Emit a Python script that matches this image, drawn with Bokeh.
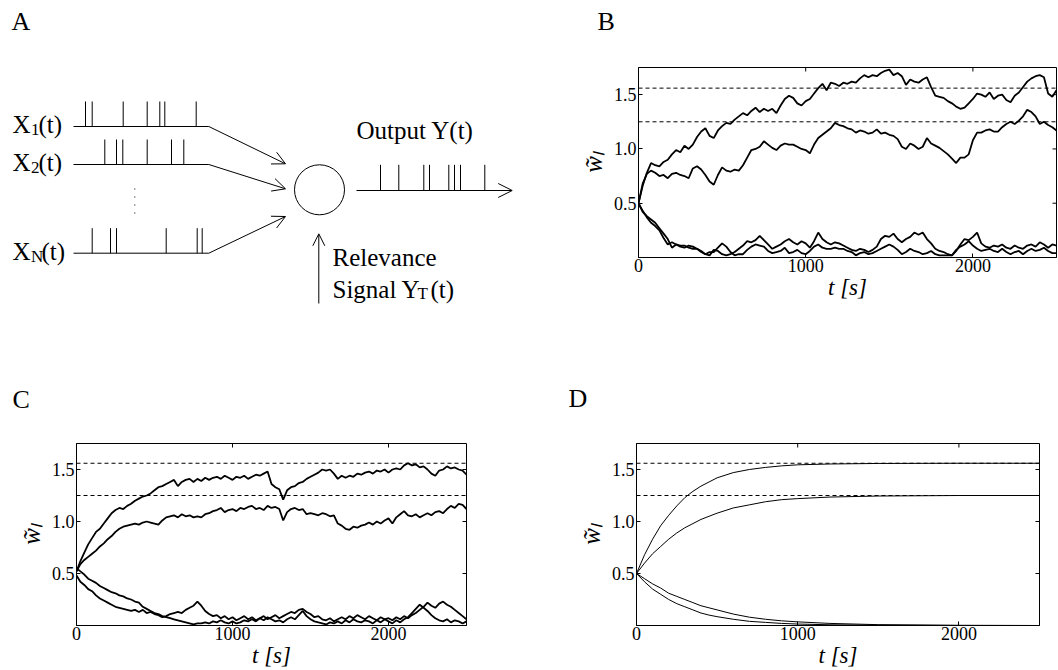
import math
from bokeh.plotting import figure
from bokeh.layouts import column, row
from bokeh.models import (Range1d, FixedTicker, Span, Arrow, OpenHead, PrintfTickFormatter)
from bokeh.embed import file_html
from bokeh.resources import INLINE
from bokeh.core.properties import value

SERIF = "Liberation Serif"
TIMES = "Liberation Serif"

# ---------------- data ----------------
x_ticks = [0, 1000, 2000]
y_ticks = [0.5, 1.0, 1.5]
t_max = 2500
w_max = 1.75
targets = [1.56, 1.25]          # dashed reference levels

t_grid = list(range(0, 2501, 25))   # sample times [s]

b_w1 = [0.50, 0.66, 0.78, 0.87, 0.85, 0.84, 0.88, 0.90, 0.95, 0.99,
        0.97, 1.03, 1.00, 1.04, 1.11, 1.16, 1.19, 1.12, 1.10, 1.17,
        1.21, 1.24, 1.23, 1.27, 1.30, 1.33, 1.31, 1.35, 1.38, 1.34,
        1.37, 1.35, 1.37, 1.33, 1.40, 1.46, 1.49, 1.47, 1.42, 1.40,
        1.44, 1.46, 1.51, 1.56, 1.60, 1.54, 1.61, 1.60, 1.58, 1.61,
        1.60, 1.62, 1.61, 1.65, 1.68, 1.66, 1.68, 1.67, 1.70, 1.72,
        1.73, 1.68, 1.70, 1.67, 1.59, 1.64, 1.62, 1.61, 1.64, 1.66,
        1.57, 1.49, 1.48, 1.47, 1.44, 1.42, 1.39, 1.37, 1.38, 1.42,
        1.46, 1.51, 1.50, 1.48, 1.52, 1.46, 1.49, 1.50, 1.45, 1.43,
        1.49, 1.52, 1.57, 1.62, 1.65, 1.67, 1.68, 1.66, 1.51, 1.48,
        1.54]
b_w2 = [0.50, 0.68, 0.77, 0.80, 0.78, 0.75, 0.76, 0.73, 0.77, 0.78,
        0.76, 0.75, 0.73, 0.82, 0.84, 0.81, 0.76, 0.70, 0.67, 0.76,
        0.83, 0.80, 0.79, 0.81, 0.80, 0.85, 0.92, 0.99, 1.00, 1.02,
        1.07, 1.04, 1.01, 0.99, 1.03, 1.05, 1.04, 1.04, 1.02, 1.00,
        0.99, 0.96, 1.04, 1.10, 1.13, 1.16, 1.19, 1.24, 1.22, 1.21,
        1.19, 1.18, 1.15, 1.17, 1.16, 1.14, 1.15, 1.18, 1.14, 1.15,
        1.13, 1.12, 1.09, 1.02, 1.00, 1.05, 1.03, 1.00, 1.02, 1.10,
        1.05, 1.03, 1.01, 0.98, 0.95, 0.91, 0.87, 0.92, 0.92, 0.95,
        1.08, 1.15, 1.15, 1.17, 1.18, 1.16, 1.16, 1.20, 1.23, 1.25,
        1.23, 1.26, 1.30, 1.36, 1.34, 1.30, 1.23, 1.25, 1.22, 1.20,
        1.17]
b_w3 = [0.50, 0.43, 0.37, 0.32, 0.29, 0.25, 0.18, 0.12, 0.14, 0.12,
        0.10, 0.09, 0.11, 0.10, 0.08, 0.05, 0.03, 0.02, 0.07, 0.06,
        0.03, 0.02, 0.03, 0.05, 0.08, 0.11, 0.15, 0.14, 0.16, 0.20,
        0.16, 0.12, 0.08, 0.10, 0.12, 0.15, 0.17, 0.14, 0.12, 0.15,
        0.13, 0.09, 0.15, 0.23, 0.17, 0.14, 0.12, 0.14, 0.13, 0.11,
        0.09, 0.07, 0.06, 0.08, 0.07, 0.05, 0.07, 0.10, 0.17, 0.20,
        0.19, 0.22, 0.17, 0.14, 0.17, 0.19, 0.23, 0.21, 0.23, 0.17,
        0.13, 0.08, 0.06, 0.05, 0.03, 0.02, 0.06, 0.12, 0.17, 0.16,
        0.19, 0.23, 0.13, 0.10, 0.09, 0.11, 0.10, 0.12, 0.09, 0.08,
        0.11, 0.09, 0.08, 0.11, 0.12, 0.10, 0.14, 0.12, 0.09, 0.12,
        0.11]
b_w4 = [0.50, 0.42, 0.38, 0.35, 0.32, 0.27, 0.22, 0.17, 0.09, 0.12,
        0.11, 0.11, 0.09, 0.08, 0.08, 0.06, 0.03, 0.05, 0.05, 0.09,
        0.13, 0.10, 0.05, 0.02, 0.03, 0.03, 0.07, 0.10, 0.12, 0.11,
        0.10, 0.06, 0.04, 0.05, 0.06, 0.09, 0.04, 0.05, 0.07, 0.04,
        0.03, 0.06, 0.10, 0.12, 0.09, 0.08, 0.08, 0.09, 0.08, 0.08,
        0.06, 0.05, 0.02, 0.04, 0.05, 0.03, 0.04, 0.06, 0.08, 0.10,
        0.12, 0.10, 0.07, 0.03, 0.05, 0.08, 0.06, 0.05, 0.03, 0.04,
        0.06, 0.03, 0.02, 0.02, 0.02, 0.02, 0.07, 0.10, 0.12, 0.15,
        0.11, 0.08, 0.06, 0.07, 0.08, 0.06, 0.05, 0.08, 0.05, 0.03,
        0.05, 0.06, 0.03, 0.06, 0.08, 0.06, 0.07, 0.09, 0.06, 0.04,
        0.04]

c_w1 = [0.52, 0.62, 0.70, 0.78, 0.84, 0.90, 0.93, 0.98, 1.03, 1.08,
        1.11, 1.13, 1.12, 1.15, 1.17, 1.20, 1.22, 1.24, 1.25, 1.27,
        1.30, 1.33, 1.34, 1.36, 1.38, 1.40, 1.34, 1.38, 1.40, 1.41,
        1.38, 1.41, 1.39, 1.42, 1.40, 1.42, 1.43, 1.41, 1.44, 1.42,
        1.40, 1.43, 1.42, 1.44, 1.41, 1.43, 1.45, 1.44, 1.46, 1.48,
        1.36, 1.33, 1.31, 1.21, 1.30, 1.33, 1.34, 1.37, 1.38, 1.41,
        1.43, 1.45, 1.47, 1.50, 1.49, 1.50, 1.46, 1.41, 1.44, 1.42,
        1.44, 1.43, 1.46, 1.45, 1.47, 1.48, 1.46, 1.49, 1.48, 1.50,
        1.47, 1.50, 1.51, 1.50, 1.54, 1.56, 1.54, 1.55, 1.52, 1.53,
        1.50, 1.46, 1.44, 1.49, 1.50, 1.53, 1.51, 1.52, 1.50, 1.49,
        1.45]
c_w2 = [0.52, 0.59, 0.63, 0.66, 0.69, 0.72, 0.76, 0.79, 0.83, 0.86,
        0.90, 0.93, 0.95, 0.96, 0.97, 0.98, 0.97, 0.99, 1.00, 0.99,
        0.98, 0.97, 1.01, 1.04, 1.05, 1.06, 1.04, 1.07, 1.05, 1.06,
        1.04, 1.05, 1.04, 1.07, 1.08, 1.10, 1.11, 1.13, 1.09, 1.11,
        1.12, 1.10, 1.13, 1.12, 1.14, 1.15, 1.12, 1.13, 1.11, 1.15,
        1.13, 1.14, 1.12, 1.01, 1.09, 1.12, 1.13, 1.11, 1.12, 1.07,
        1.08, 1.07, 1.06, 1.08, 1.07, 1.05, 1.06, 0.98, 0.96, 0.93,
        0.92, 0.95, 0.94, 0.96, 0.97, 0.99, 0.97, 1.00, 0.98, 1.01,
        1.03, 0.98, 1.04, 1.07, 1.10, 1.06, 1.05, 1.07, 1.04, 1.06,
        1.08, 1.06, 1.09, 1.10, 1.08, 1.12, 1.15, 1.13, 1.17, 1.16,
        1.12]
c_w3 = [0.55, 0.52, 0.49, 0.45, 0.43, 0.41, 0.38, 0.36, 0.34, 0.32,
        0.31, 0.29, 0.28, 0.26, 0.25, 0.23, 0.22, 0.18, 0.16, 0.14,
        0.12, 0.11, 0.09, 0.08, 0.07, 0.06, 0.05, 0.04, 0.03, 0.02,
        0.01, 0.02, 0.02, 0.03, 0.02, 0.04, 0.03, 0.05, 0.03, 0.02,
        0.04, 0.02, 0.03, 0.05, 0.04, 0.06, 0.04, 0.07, 0.05, 0.08,
        0.06, 0.04, 0.05, 0.03, 0.06, 0.08, 0.06, 0.10, 0.14, 0.09,
        0.06, 0.04, 0.03, 0.02, 0.01, 0.03, 0.02, 0.04, 0.02, 0.05,
        0.03, 0.06, 0.04, 0.03, 0.05, 0.04, 0.02, 0.05, 0.03, 0.06,
        0.04, 0.02, 0.05, 0.03, 0.06, 0.08, 0.12, 0.16, 0.20, 0.17,
        0.14, 0.10, 0.07, 0.05, 0.04, 0.06, 0.03, 0.05, 0.04, 0.02,
        0.04]
c_w4 = [0.48, 0.42, 0.39, 0.35, 0.33, 0.29, 0.26, 0.24, 0.22, 0.20,
        0.18, 0.17, 0.16, 0.15, 0.14, 0.15, 0.13, 0.15, 0.12, 0.13,
        0.11, 0.10, 0.08, 0.09, 0.11, 0.12, 0.13, 0.12, 0.15, 0.17,
        0.19, 0.23, 0.19, 0.14, 0.11, 0.09, 0.10, 0.07, 0.09, 0.06,
        0.08, 0.05, 0.07, 0.09, 0.06, 0.08, 0.05, 0.07, 0.09, 0.06,
        0.08, 0.10, 0.07, 0.09, 0.11, 0.13, 0.12, 0.15, 0.16, 0.13,
        0.11, 0.08, 0.09, 0.06, 0.05, 0.07, 0.04, 0.06, 0.08, 0.06,
        0.09, 0.07, 0.10, 0.08, 0.06, 0.09, 0.07, 0.05, 0.08, 0.06,
        0.07, 0.05, 0.08, 0.06, 0.09, 0.07, 0.10, 0.12, 0.15, 0.18,
        0.22, 0.19, 0.17, 0.21, 0.23, 0.20, 0.18, 0.15, 0.12, 0.09,
        0.06]

d_t = [0, 50, 100, 150, 200, 250, 300, 350, 400, 450, 500, 600, 700,
       800, 900, 1000, 1200, 1500, 2000, 2500]
d_w1 = [0.50, 0.68, 0.83, 0.96, 1.06, 1.15, 1.23, 1.29, 1.34, 1.38, 1.42,
        1.47, 1.50, 1.52, 1.535, 1.545, 1.553, 1.558, 1.56, 1.56]
d_w2 = [0.50, 0.60, 0.69, 0.76, 0.83, 0.89, 0.94, 0.98, 1.02, 1.05, 1.08,
        1.13, 1.16, 1.19, 1.21, 1.22, 1.235, 1.245, 1.25, 1.25]
d_w3 = [0.50, 0.45, 0.40, 0.36, 0.31, 0.28, 0.25, 0.22, 0.19, 0.17, 0.15,
        0.11, 0.08, 0.06, 0.045, 0.035, 0.02, 0.008, 0.002, 0.0]
d_w4 = [0.50, 0.42, 0.35, 0.30, 0.25, 0.21, 0.18, 0.15, 0.12, 0.10, 0.085,
        0.06, 0.04, 0.03, 0.02, 0.014, 0.007, 0.003, 0.0, 0.0]

# schematic (panel A) spike trains, horizontal positions on the drawing
input_subs = ["1", "2", "N"]
input_spikes = [[85, 91.7, 122.7, 146.7, 159.3, 164.3, 195.7],
                [104.3, 116, 122.3, 146.7, 171, 183.3],
                [91.7, 110, 116, 165.7, 196.7, 201.7]]
output_spikes = [380, 398.3, 423.3, 429, 448.3, 454, 460, 484.3]

TOP_H = 320
BOT_H = 350
LET_B = 40      # height of the strip holding letter B
LET_CD = 100    # height of the strips holding letters C and D


def blank(width, height):
    f = figure(width=width, height=height, x_range=Range1d(0, width), y_range=Range1d(height, 0),
               toolbar_location=None, output_backend="svg", min_border=0,
               x_axis_type=None, y_axis_type=None, frame_align=False)
    f.outline_line_color = None
    f.grid.visible = False
    return f


def put_text(f, x, y, s, size="25px"):
    f.text(x=[x], y=[y], text=[s], text_font=value(TIMES), text_font_size=size,
           text_baseline="alphabetic", text_align="left", text_color="black")


# ---------------- panel A (schematic) ----------------
pA = blank(560, TOP_H)

line_y = [126, 164, 252.7]
arrow_end = [(285, 163.3), (285, 188.3), (285, 216)]
spike_h = 25
for k in range(3):
    yy = line_y[k]
    pA.line([73, 208.3], [yy, yy], line_color="black", line_width=1)
    xs = input_spikes[k]
    pA.segment(x0=xs, y0=[yy] * len(xs), x1=xs, y1=[yy - spike_h] * len(xs),
               line_color="black", line_width=1)
    pA.add_layout(Arrow(x_start=208.3, y_start=yy, x_end=arrow_end[k][0], y_end=arrow_end[k][1],
                        line_color="black", line_width=1,
                        end=OpenHead(size=13, line_width=1, line_color="black")))
    base = yy - 2
    put_text(pA, 12, base, "X")
    put_text(pA, 30.5, base + 5, input_subs[k], "17px")
    put_text(pA, 38 if k < 2 else 41, base, "(t)")

pA.line([134.3, 134.3], [188, 216], line_color="black", line_width=1, line_dash="1 7")
pA.circle(x=[319], y=[189.3], radius=25, fill_color=None, line_color="black", line_width=1)

pA.add_layout(Arrow(x_start=356, y_start=190, x_end=511.7, y_end=190, line_color="black",
                    line_width=1, end=OpenHead(size=14, line_width=1, line_color="black")))
pA.segment(x0=output_spikes, y0=[190] * len(output_spikes), x1=output_spikes,
           y1=[164.3] * len(output_spikes), line_color="black", line_width=1)
pA.add_layout(Arrow(x_start=318.3, y_start=303, x_end=318.3, y_end=233.3, line_color="black",
                    line_width=1, end=OpenHead(size=12, line_width=1, line_color="black")))

put_text(pA, 11, 21, "A", "26px")
put_text(pA, 356, 130, "Output Y(t)")
put_text(pA, 332, 256.5, "Relevance")
put_text(pA, 332, 288.5, "Signal")
put_text(pA, 401, 288.5, "Y")
put_text(pA, 417, 292.5, "T", "17px")
put_text(pA, 430, 288.5, "(t)")

# letter strips
lB = blank(498, LET_B)
put_text(lB, 37, 21, "B", "26px")
lC = blank(560, LET_CD)
put_text(lC, 12, 79, "C", "26px")
lD = blank(498, LET_CD)
put_text(lD, 8, 78, "D", "26px")


# ---------------- data panels ----------------
def make_panel(width, height, left, right, top, bottom):
    p = figure(width=width, height=height, x_range=Range1d(0, t_max), y_range=Range1d(0, w_max),
               min_border_left=left, min_border_right=right, min_border_top=top,
               min_border_bottom=bottom, toolbar_location=None, output_backend="svg",
               frame_align=False)
    p.grid.visible = False
    p.outline_line_color = "black"
    p.outline_line_width = 1
    p.xaxis.ticker = FixedTicker(ticks=x_ticks)
    p.yaxis.ticker = FixedTicker(ticks=y_ticks)
    p.yaxis.formatter = PrintfTickFormatter(format="%.1f")
    for ax in (p.xaxis[0], p.yaxis[0]):
        ax.major_tick_in = 4
        ax.major_tick_out = 0
        ax.minor_tick_line_color = None
        ax.axis_line_color = "black"
        ax.major_tick_line_color = "black"
        ax.major_label_text_font = SERIF
        ax.major_label_text_font_size = "18px"
        ax.major_label_text_color = "black"
        ax.axis_label_text_font = SERIF
        ax.axis_label_text_font_style = "italic"
        ax.axis_label_text_color = "black"
    p.xaxis.axis_label = "t [s]"
    p.yaxis.axis_label = "w\u0303\u2097"
    p.xaxis.axis_label_text_font_size = "23px"
    p.yaxis.axis_label_text_font_size = "25px"
    p.xaxis.axis_label_standoff = 0
    p.yaxis.axis_label_standoff = 4
    p.xaxis.major_label_standoff = 1
    p.yaxis.major_label_standoff = 2
    # inward ticks on the top and right frame edges (half of each dash is clipped)
    p.scatter(x=x_ticks, y=[w_max] * len(x_ticks), marker="dash", angle=math.pi / 2,
              size=8, line_color="black", line_width=1)
    p.scatter(x=[t_max] * len(y_ticks), y=y_ticks, marker="dash", size=8,
              line_color="black", line_width=1)
    for lev in targets:
        p.add_layout(Span(location=lev, dimension="width", line_color="black",
                          line_dash="4 3", line_width=1))
    return p


pB_h = TOP_H - LET_B
pB = make_panel(498, pB_h, 78, 2, 67 - LET_B, pB_h - (67 - LET_B) - 190)
for w in (b_w1, b_w2, b_w3, b_w4):
    pB.line(t_grid, w, line_color="black", line_width=1.8)

pCD_h = BOT_H - LET_CD
cd_top = 443 - TOP_H - LET_CD
pC = make_panel(560, pCD_h, 76, 94, cd_top, pCD_h - cd_top - 184)
for w in (c_w1, c_w2, c_w3, c_w4):
    pC.line(t_grid, w, line_color="black", line_width=1.8)

pD = make_panel(498, pCD_h, 76, 19, cd_top, pCD_h - cd_top - 184)
for w in (d_w1, d_w2, d_w3, d_w4):
    pD.line(d_t, w, line_color="black", line_width=1)

layout = column(
    row(pA, column(lB, pB, spacing=0), spacing=0),
    row(column(lC, pC, spacing=0), column(lD, pD, spacing=0), spacing=0),
    spacing=0)

open("out.html", "w").write(file_html(layout, INLINE))
